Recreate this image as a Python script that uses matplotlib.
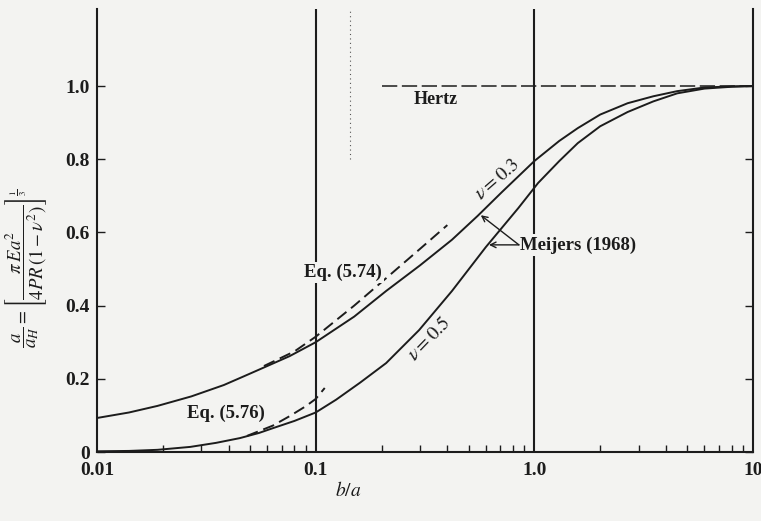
import numpy as np
import matplotlib
matplotlib.use("Agg")
import matplotlib.pyplot as plt
from matplotlib.ticker import LogLocator, NullFormatter

plt.rcParams['font.family'] = ['Liberation Serif', 'DejaVu Serif']
plt.rcParams['mathtext.fontset'] = 'stix'

# curves (b/a, a/a_H)
nu03_x = [0.01, 0.014, 0.0189, 0.027, 0.038, 0.047, 0.0575, 0.076, 0.1, 0.15, 0.21, 0.3, 0.42, 0.55, 0.71, 1.0, 1.3, 1.58, 2.0, 2.67, 3.5, 4.5, 6.0, 8.0, 10]
nu03_y = [0.093, 0.108, 0.126, 0.152, 0.183, 0.207, 0.23, 0.262, 0.30, 0.37, 0.44, 0.51, 0.58, 0.645, 0.71, 0.795, 0.85, 0.885, 0.922, 0.953, 0.972, 0.986, 0.996, 0.999, 1.0]

nu05_x = [0.01, 0.014, 0.0189, 0.0267, 0.035, 0.045, 0.055, 0.0636, 0.08, 0.1, 0.124, 0.16, 0.21, 0.297, 0.42, 0.6, 0.846, 1.04, 1.3, 1.58, 2.0, 2.67, 3.5, 4.5, 6.0, 8.0, 10]
nu05_y = [0.002, 0.003, 0.006, 0.014, 0.025, 0.038, 0.052, 0.065, 0.085, 0.108, 0.143, 0.19, 0.243, 0.333, 0.44, 0.56, 0.667, 0.735, 0.795, 0.844, 0.89, 0.929, 0.958, 0.98, 0.993, 0.998, 1.0]

eq574_x = [0.058, 0.08, 0.1, 0.15, 0.21, 0.3, 0.4]
eq574_y = [0.235, 0.275, 0.315, 0.40, 0.475, 0.555, 0.62]

eq576_x = [0.0485, 0.0636, 0.076, 0.09, 0.1, 0.11]
eq576_y = [0.044, 0.072, 0.098, 0.125, 0.145, 0.175]

hertz_x = [0.2, 10]
hertz_y = [1.0, 1.0]

xticks = [0.01, 0.1, 1.0, 10]
xticklabels = ['0.01', '0.1', '1.0', '10']
yticks = [0, 0.2, 0.4, 0.6, 0.8, 1.0]
yticklabels = ['0', '0.2', '0.4', '0.6', '0.8', '1.0']

bg = '#f3f3f1'
ink = '#1c1c1c'

fig = plt.figure(figsize=(7.61, 5.21), dpi=100, facecolor=bg)
ax = fig.add_axes([0.1275, 0.1324, 0.862, 0.850], facecolor=bg)

ax.set_xscale('log')
ax.set_xlim(0.01, 10)
ax.set_ylim(0, 1.21)

# decade lines
for xv in [0.1, 1.0]:
    ax.axvline(xv, color=ink, lw=1.5, zorder=1)
# scan artefact dotted line
ax.plot([0.143, 0.143], [0.8, 1.21], color='#555555', lw=0.8, ls=(0, (1, 3)), zorder=1)

ax.plot(nu03_x, nu03_y, color=ink, lw=1.4, zorder=3)
ax.plot(nu05_x, nu05_y, color=ink, lw=1.4, zorder=3)
ax.plot(eq574_x, eq574_y, color=ink, lw=1.4, dashes=(6, 3), zorder=3)
ax.plot(eq576_x, eq576_y, color=ink, lw=1.4, dashes=(6, 3), zorder=3)
ax.plot(hertz_x, hertz_y, color=ink, lw=1.1, dashes=(10, 3), zorder=2)

box = dict(facecolor=bg, edgecolor='none', pad=1.5)
ax.text(0.28, 0.962, 'Hertz', fontsize=13, fontweight='bold', ha='left', va='center', color=ink)
ax.text(0.133, 0.49, 'Eq. (5.74)', fontsize=13.5, fontweight='bold', ha='center', va='center', color=ink, bbox=box, zorder=4)
ax.text(0.039, 0.107, 'Eq. (5.76)', fontsize=13.5, fontweight='bold', ha='center', va='center', color=ink, zorder=4)
ax.text(0.68, 0.745, r'$\nu = 0.3$', fontsize=14, rotation=41, ha='center', va='center', color=ink)
ax.text(0.33, 0.31, r'$\nu = 0.5$', fontsize=14, rotation=46, ha='center', va='center', color=ink)
ax.text(0.86, 0.566, 'Meijers (1968)', fontsize=13.5, fontweight='bold', ha='left', va='center', color=ink, bbox=box, zorder=4)
ax.annotate('', xy=(0.569, 0.647), xytext=(0.85, 0.566),
            arrowprops=dict(arrowstyle='->', color=ink, lw=1.0, shrinkA=0, shrinkB=0), zorder=4)
ax.annotate('', xy=(0.62, 0.566), xytext=(0.85, 0.566),
            arrowprops=dict(arrowstyle='->', color=ink, lw=1.0, shrinkA=0, shrinkB=0), zorder=4)

ax.set_xticks(xticks)
ax.set_xticklabels(xticklabels)
ax.xaxis.set_minor_locator(LogLocator(base=10, subs=np.arange(2, 10)))
ax.xaxis.set_minor_formatter(NullFormatter())
ax.set_yticks(yticks)
ax.set_yticklabels(yticklabels)

ax.tick_params(axis='x', which='major', length=0, pad=7, labelsize=14, colors=ink)
ax.tick_params(axis='x', which='minor', direction='in', length=5, width=1.0, color=ink)
ax.tick_params(axis='y', direction='in', length=6, width=1.0, right=True, pad=5, labelsize=14, colors=ink)
for lab in ax.get_xticklabels() + ax.get_yticklabels():
    lab.set_fontweight('bold')

ax.spines['top'].set_visible(False)
for s in ['left', 'right', 'bottom']:
    ax.spines[s].set_color(ink)
    ax.spines[s].set_linewidth(1.5)

ax.set_xlabel(r'$\mathbf{\mathit{b/a}}$', fontsize=14, color=ink)
ax.xaxis.set_label_coords(0.383, -0.065)
ax.set_ylabel(r'$\dfrac{a}{a_H}=\left[\dfrac{\pi\, E a^2}{4PR\,(1-\nu^2)}\right]^{\frac{1}{3}}$',
              fontsize=13.5, color=ink)
ax.yaxis.set_label_coords(-0.072, 0.415)

fig.savefig('out.png', dpi=100, facecolor=bg)
